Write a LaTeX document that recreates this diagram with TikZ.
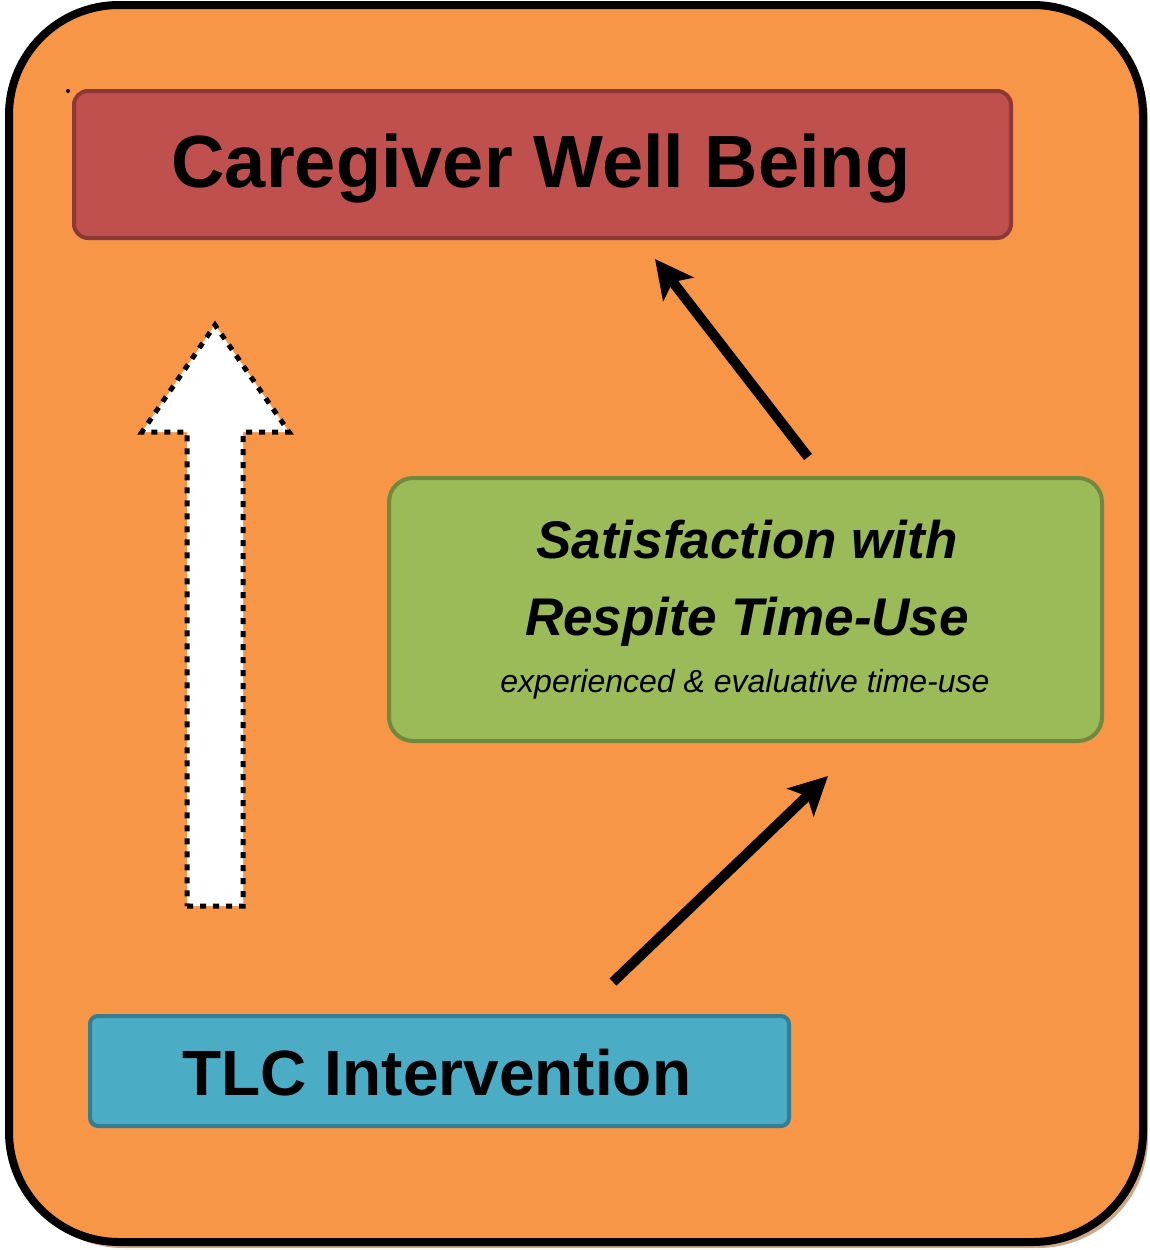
\documentclass[tikz,border=0pt]{standalone}
\usepackage{fontspec}
\setmainfont{Liberation Sans}
\usetikzlibrary{arrows.meta}
\definecolor{outerfill}{HTML}{F79646}
\definecolor{redfill}{HTML}{C0504D}
\definecolor{redline}{HTML}{8C3836}
\definecolor{greenfill}{HTML}{9BBB59}
\definecolor{greenline}{HTML}{71893F}
\definecolor{bluefill}{HTML}{4BACC6}
\definecolor{blueline}{HTML}{357D91}
\definecolor{shadowcol}{HTML}{CFA88A}
\tikzset{
  boxnode/.style={draw, line width=4pt, inner sep=0pt, anchor=north west},
  causal/.style={line width=10pt, -{Stealth[length=38pt,width=38pt,inset=9pt]}},
}
\begin{document}
\begin{tikzpicture}[x=1pt,y=-1pt]
\useasboundingbox (0,0) rectangle (1150,1250);
% outer frame with shadow
\fill[shadowcol, rounded corners=110pt] (13,10) rectangle (1148,1248);
\draw[fill=outerfill, line width=8pt, rounded corners=110pt] (9,5) rectangle (1143,1242);
\fill (68,91) circle (2pt);
% boxes
\node[boxnode, fill=redfill, draw=redline, rounded corners=14pt,
      minimum width=937pt, minimum height=147pt] (wb) at (72,89) {};
\node[boxnode, fill=greenfill, draw=greenline, rounded corners=24pt,
      minimum width=713pt, minimum height=263pt] (sat) at (387,476) {};
\node[boxnode, fill=bluefill, draw=blueline, rounded corners=8pt,
      minimum width=699pt, minimum height=110pt] (tlc) at (88,1014) {};
% texts
\node[anchor=base, inner sep=0pt, font=\fontsize{74}{80}\selectfont\bfseries] (wbt) at (541,187) {Caregiver Well Being};
\node[anchor=base, inner sep=0pt, font=\fontsize{53}{60}\selectfont\bfseries\itshape] (sat1) at (747,558) {Satisfaction with};
\node[anchor=base, inner sep=0pt, font=\fontsize{53}{60}\selectfont\bfseries\itshape] (sat2) at (747,635) {Respite Time-Use};
\node[anchor=base, inner sep=0pt, font=\fontsize{32}{36}\selectfont\itshape] (sat3) at (745,692) {experienced \& evaluative time-use};
\node[anchor=base, inner sep=0pt, font=\fontsize{64}{70}\selectfont\bfseries] (tlct) at (437,1095) {TLC Intervention};
% white dashed arrow
\draw[fill=white, line width=5pt, dash pattern=on 6pt off 7pt]
  (187,906) -- (243,906) -- (243,432) -- (289,432) -- (215,325) -- (142,432) -- (187,432) -- cycle;
% causal arrows
\coordinate (a1s) at (808,457);
\coordinate (a1e) at (655,259);
\coordinate (a2s) at (613,982);
\coordinate (a2e) at (828,776);
\draw[causal] (a1s) -- (a1e);
\draw[causal] (a2s) -- (a2e);
\end{tikzpicture}
\end{document}
